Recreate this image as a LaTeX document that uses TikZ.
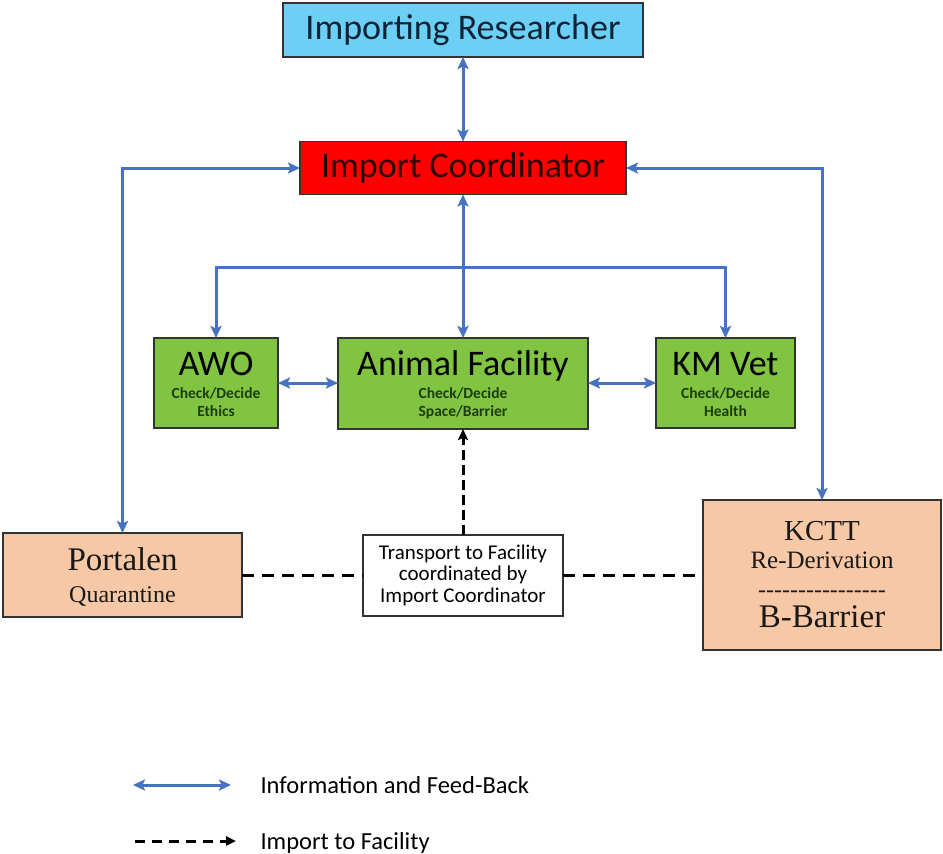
\documentclass[tikz,border=0pt]{standalone}
\usepackage{fontspec}
\setmainfont{Carlito}
\newfontfamily\serifA{Liberation Serif}
\usetikzlibrary{arrows.meta}
\definecolor{rblue}{RGB}{108,208,246}
\definecolor{cred}{RGB}{255,0,0}
\definecolor{cgreen}{RGB}{128,196,66}
\definecolor{csalmon}{RGB}{246,200,166}
\definecolor{ablue}{RGB}{70,114,192}
\definecolor{tgreen}{RGB}{30,60,12}
\definecolor{tnavy}{RGB}{15,35,55}
\definecolor{tdred}{RGB}{45,0,0}
\newcommand\hy{\mbox{-}}
\begin{document}
\begin{tikzpicture}[x=1pt,y=-1pt,
  bx/.style={draw=black!80, line width=1.3pt, inner sep=0pt, outer sep=0pt},
  info/.style={draw=ablue, line width=3pt, {Stealth[length=12pt,width=11pt,inset=2.5pt]}-{Stealth[length=12pt,width=11pt,inset=2.5pt]}},
  infoend/.style={draw=ablue, line width=3pt, -{Stealth[length=12pt,width=11pt,inset=2.5pt]}},
  imp/.style={draw=black, line width=3pt, dash pattern=on 12pt off 8pt},
  impv/.style={draw=black, line width=3pt, dash pattern=on 10pt off 5pt, -{Stealth[length=11pt,width=10pt,inset=2pt]}},
  impl/.style={draw=black, line width=3pt, dash pattern=on 10pt off 7pt, -{Triangle[length=10pt,width=9pt]}},
  big/.style={font=\fontsize{36}{40}\selectfont},
  sub/.style={font=\bfseries\fontsize{15.5}{18}\selectfont, text=tgreen, anchor=base},
  tr/.style={font=\fontsize{21}{22}\selectfont, anchor=base},
  lg/.style={font=\fontsize{24.5}{26}\selectfont, anchor=base west}
]
\useasboundingbox[fill=white] (0,0) rectangle (943,854);

% boxes
\node[bx, fill=rblue, minimum width=360pt, minimum height=54pt, big, text=tnavy] (res) at (463,30) {Importing Researcher};
\node[bx, fill=cred, minimum width=326pt, minimum height=53pt, big, text=tdred] (coord) at (463,168) {Import Coordinator};

\node[bx, fill=cgreen, minimum width=124pt, minimum height=90pt] (awo) at (216,383) {};
\node[bx, fill=cgreen, minimum width=250pt, minimum height=91pt] (af) at (463,383.5) {};
\node[bx, fill=cgreen, minimum width=139pt, minimum height=90pt] (km) at (725.5,383) {};

\node[bx, fill=csalmon, minimum width=239pt, minimum height=84pt] (port) at (122.5,575) {};
\node[bx, fill=white, minimum width=200pt, minimum height=81pt] (trans) at (463,575.5) {};
\node[bx, fill=csalmon, minimum width=238pt, minimum height=150pt] (kctt) at (822,575) {};

% texts in green boxes
\node[big, anchor=base] (awo-t) at (216,375) {AWO};
\node[sub] (awo-s1) at (216,398) {Check/Decide};
\node[sub] (awo-s2) at (216,416) {Ethics};
\node[big, anchor=base] (af-t) at (463,375) {Animal Facility};
\node[sub] (af-s1) at (463,398) {Check/Decide};
\node[sub] (af-s2) at (463,416) {Space/Barrier};
\node[big, anchor=base] (km-t) at (725.5,375) {KM Vet};
\node[sub] (km-s1) at (725.5,398) {Check/Decide};
\node[sub] (km-s2) at (725.5,416) {Health};

% Portalen
\node[font=\serifA\fontsize{33}{35}\selectfont, anchor=base, text=black!90] (port-t) at (122.5,570) {Portalen};
\node[font=\serifA\fontsize{24}{26}\selectfont, anchor=base, text=black!90] (port-s) at (122.5,602) {Quarantine};

% KCTT
\node[font=\serifA\fontsize{29}{31}\selectfont, anchor=base, text=black!90] (kctt-t) at (822,540) {KCTT};
\node[font=\serifA\fontsize{25}{27}\selectfont, anchor=base, text=black!90] (kctt-s) at (822,568) {Re-Derivation};
\node[font=\serifA\fontsize{24}{26}\selectfont, anchor=base, text=black!90] (kctt-d) at (822,597) {\hy\hy\hy\hy\hy\hy\hy\hy\hy\hy\hy\hy\hy\hy\hy\hy};
\node[font=\serifA\fontsize{33}{35}\selectfont, anchor=base, text=black!90] (kctt-b) at (822,627) {B-Barrier};

% Transport
\node[tr] (tr1) at (463,559) {Transport to Facility};
\node[tr] (tr2) at (463,580) {coordinated by};
\node[tr] (tr3) at (463,602) {Import Coordinator};

% connectors
\draw[info] (res.south) -- (coord.north);
\draw[info] (port.north) |- (coord.west);
\draw[info] (coord.east) -| (kctt.north);
\draw[info] (coord.south) -- (af.north);
\coordinate (jn) at (463,267);
\draw[infoend] (jn) -| (awo.north);
\draw[infoend] (jn) -| (km.north);
\draw[info] (awo.east) -- (af.west |- awo.east);
\draw[info] (af.east |- km.west) -- (km.west);

\draw[impv] (trans.north) -- (af.south);
\draw[imp] (port.east) -- (trans.west |- port.east);
\draw[imp] (trans.east |- kctt.west) -- (kctt.west);

% legend
\coordinate (l1a) at (133,785);
\coordinate (l1b) at (231,785);
\draw[info] (l1a) -- (l1b);
\node[lg] (l1t) at (257,793) {Information and Feed-Back};
\coordinate (l2a) at (135,841);
\coordinate (l2b) at (236,841);
\draw[impl] (l2a) -- (l2b);
\node[lg] (l2t) at (257,849) {Import to Facility};
\end{tikzpicture}
\end{document}
